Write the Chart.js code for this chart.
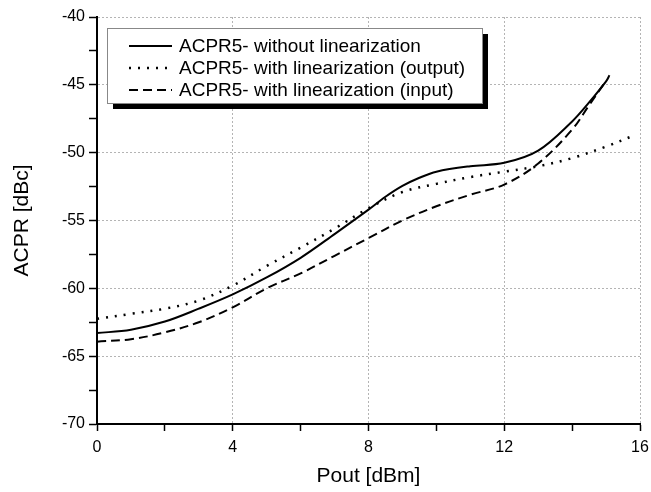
<!DOCTYPE html>
<html>
<head>
<meta charset="utf-8">
<title>ACPR vs Pout</title>
<script src="https://cdn.jsdelivr.net/npm/chart.js@4.4.1/dist/chart.umd.min.js"></script>
<style>
    html, body { margin: 0; padding: 0; background: #fff; }
    #wrap { width: 651px; height: 492px; }
</style>
</head>
<body>
<div id="wrap"><canvas id="acprChart" width="651" height="492"></canvas></div>
<script>
// Series data
const seriesLabels = [
    'ACPR5- without linearization',
    'ACPR5- with linearization (output)',
    'ACPR5- with linearization (input)'
];

const poutWithout = [0, 1, 2, 3, 4, 5, 6, 7, 8, 8.5, 9, 9.5, 10, 11, 12, 13, 14, 14.5, 15, 15.1];
const acprWithout = [-63.3, -63.05, -62.45, -61.5, -60.45, -59.2, -57.75, -56.0, -54.2, -53.25, -52.45, -51.85, -51.4, -51.0, -50.75, -49.85, -47.7, -46.3, -44.75, -44.3];

const poutOutput = [0, 1, 2, 3, 4, 5, 6, 7, 8, 9, 10, 11, 12, 13, 14, 15, 15.85];
const acprOutput = [-62.25, -61.88, -61.5, -60.9, -59.8, -58.35, -57.0, -55.6, -54.1, -52.9, -52.3, -51.8, -51.4, -51.0, -50.4, -49.55, -48.7];

const poutInput = [0, 1, 2, 3, 4, 5, 6, 7, 8, 9, 10, 11, 12, 13, 14, 14.5, 15];
const acprInput = [-63.93, -63.75, -63.25, -62.5, -61.4, -60.0, -58.9, -57.6, -56.3, -55.0, -53.95, -53.1, -52.35, -50.8, -48.3, -46.5, -44.7];

// Axis ticks
const xTicks = [0, 4, 8, 12, 16];
const yTicks = [-40, -45, -50, -55, -60, -65, -70];

const FONT = '"Liberation Sans", Arial, sans-serif';

function toPoints(xs, ys) {
    return xs.map((x, i) => ({ x: x, y: ys[i] }));
}

// Legend box with drop shadow, like the original plot
const boxLegend = {
    id: 'boxLegend',
    afterDraw(chart) {
        const ctx = chart.ctx;
        const bx = 107, by = 28, bw = 375, bh = 75;
        ctx.save();
        ctx.fillStyle = '#000';
        ctx.fillRect(bx + 6, by + 6, bw, bh);
        ctx.fillStyle = '#fff';
        ctx.fillRect(bx, by, bw, bh);
        ctx.strokeStyle = '#888';
        ctx.lineWidth = 1;
        ctx.strokeRect(bx + 0.5, by + 0.5, bw, bh);

        const rows = [46, 68, 90];
        chart.data.datasets.forEach((ds, i) => {
            const y = rows[i];
            ctx.beginPath();
            ctx.setLineDash(ds.borderDash || []);
            ctx.lineWidth = ds.borderWidth;
            ctx.strokeStyle = ds.borderColor;
            ctx.moveTo(129, y);
            ctx.lineTo(172, y);
            ctx.stroke();
            ctx.setLineDash([]);
            ctx.fillStyle = '#000';
            ctx.font = '19px ' + FONT;
            ctx.textBaseline = 'middle';
            ctx.textAlign = 'left';
            ctx.fillText(ds.label, 179, y + 1);
        });
        ctx.restore();
    }
};

function buildChart() {
    const ctx = document.getElementById('acprChart').getContext('2d');
    const dashes = [[], [2, 7], [9, 5]];
    const data = [
        toPoints(poutWithout, acprWithout),
        toPoints(poutOutput, acprOutput),
        toPoints(poutInput, acprInput)
    ];

    new Chart(ctx, {
        type: 'line',
        data: {
            datasets: data.map((pts, i) => ({
                label: seriesLabels[i],
                data: pts,
                borderColor: '#000',
                borderWidth: i === 1 ? 2.5 : 2,
                borderDash: dashes[i],
                pointRadius: 0,
                fill: false,
                tension: 0.35
            }))
        },
        options: {
            responsive: false,
            animation: false,
            layout: { padding: { top: 17, right: 11, left: 0, bottom: 0 } },
            plugins: {
                legend: { display: false },
                tooltip: { enabled: false }
            },
            scales: {
                x: {
                    type: 'linear',
                    min: 0,
                    max: 16,
                    afterFit(scale) {
                        scale.height = 68;
                        scale.paddingLeft = 0;
                        scale.paddingRight = 0;
                    },
                    ticks: {
                        stepSize: 2,
                        autoSkip: false,
                        maxRotation: 0,
                        padding: 7,
                        color: '#000',
                        font: { family: FONT, size: 16 },
                        callback: v => xTicks.includes(v) ? String(v) : ''
                    },
                    grid: {
                        color: c => (c.tick && xTicks.includes(c.tick.value)) ? '#b4b4b4' : 'rgba(0,0,0,0)',
                        tickColor: '#000',
                        tickLength: 7,
                        tickWidth: 1.5,
                        tickBorderDash: []
                    },
                    border: { display: true, color: '#000', width: 2, dash: [2, 2] },
                    title: {
                        display: true,
                        text: 'Pout [dBm]',
                        color: '#000',
                        font: { family: FONT, size: 21 },
                        padding: { top: 0, bottom: 3 }
                    }
                },
                y: {
                    type: 'linear',
                    min: -70,
                    max: -40,
                    afterFit(scale) {
                        scale.width = 97;
                        scale.paddingTop = 0;
                        scale.paddingBottom = 0;
                    },
                    ticks: {
                        stepSize: 2.5,
                        autoSkip: false,
                        padding: 4,
                        color: '#000',
                        font: { family: FONT, size: 16 },
                        callback: v => yTicks.includes(v) ? String(v) : ''
                    },
                    grid: {
                        color: c => (c.tick && yTicks.includes(c.tick.value)) ? '#b4b4b4' : 'rgba(0,0,0,0)',
                        tickColor: '#000',
                        tickLength: 8,
                        tickWidth: 1.5,
                        tickBorderDash: []
                    },
                    border: { display: true, color: '#000', width: 2, dash: [2, 2] },
                    title: {
                        display: true,
                        text: 'ACPR [dBc]',
                        color: '#000',
                        font: { family: FONT, size: 21 },
                        padding: { top: 10, bottom: 0 }
                    }
                }
            }
        },
        plugins: [boxLegend]
    });
}

document.addEventListener('DOMContentLoaded', buildChart);
</script>
</body>
</html>
